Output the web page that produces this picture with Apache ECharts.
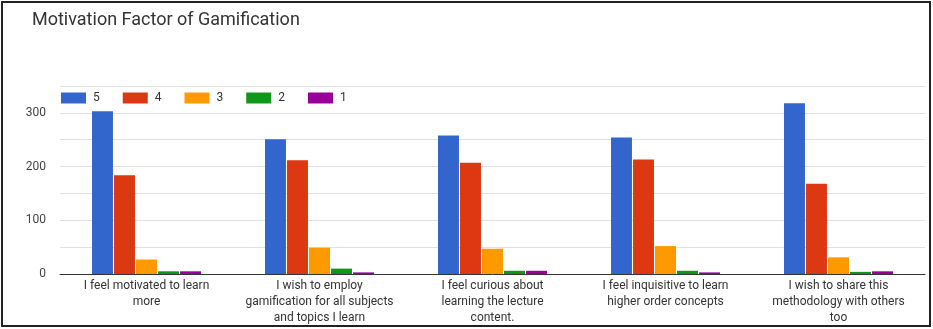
<!DOCTYPE html>
<html>
<head>
<meta charset="utf-8">
<script src="https://cdn.jsdelivr.net/npm/echarts@6/dist/echarts.min.js"></script>
<style>
  html, body { margin: 0; padding: 0; background: #fff; }
  #chart { width: 933px; height: 329px; }
</style>
</head>
<body>
<div id="chart"></div>
<script>
// Survey statements (x categories)
const categories = [
  'I feel motivated to learn more',
  'I wish to employ gamification for all subjects and topics I learn',
  'I feel curious about learning the lecture content.',
  'I feel inquisitive to learn higher order concepts',
  'I wish to share this methodology with others too'
];
// Wrapped tick labels for the category axis
const tickLabels = [
  'I feel motivated to learn\nmore',
  'I wish to employ\ngamification for all subjects\nand topics I learn',
  'I feel curious about\nlearning the lecture\ncontent.',
  'I feel inquisitive to learn\nhigher order concepts',
  'I wish to share this\nmethodology with others\ntoo'
];
// Likert rating names and response counts per rating
const ratingNames = ['5', '4', '3', '2', '1'];
const rating5 = [303, 251, 258, 254, 318];
const rating4 = [184, 212, 207, 213, 168];
const rating3 = [27, 49, 47, 52, 31];
const rating2 = [5, 10, 6, 6, 4];
const rating1 = [5, 3, 6, 3, 5];
const yTicks = [0, 100, 200, 300];

const colors = ['#3366cc', '#dc3912', '#ff9900', '#109618', '#990099'];
const values = [rating5, rating4, rating3, rating2, rating1];

const chart = echarts.init(document.getElementById('chart'));
chart.setOption({
  animation: false,
  color: colors,
  textStyle: { fontFamily: 'Roboto, Arial, sans-serif' },
  title: {
    text: 'Motivation Factor of Gamification',
    left: 27, top: 6,
    textStyle: { fontSize: 18, fontWeight: 'normal', color: '#333' }
  },
  legend: {
    left: 61, top: 92, padding: 0,
    itemWidth: 25, itemHeight: 11, itemGap: 23,
    icon: 'rect',
    textStyle: { fontSize: 12, color: '#333', padding: [0, 0, 0, 2] },
    data: ratingNames
  },
  graphic: [{
    type: 'rect', silent: true,
    shape: { x: 2, y: 2, width: 928, height: 324 },
    style: { fill: 'none', stroke: '#222', lineWidth: 2 }
  }],
  grid: { left: 60, right: 8, top: 86, bottom: 55, containLabel: false },
  xAxis: {
    type: 'category',
    data: categories,
    axisTick: { show: false },
    axisLine: { lineStyle: { color: '#333', width: 1 } },
    axisLabel: {
      interval: 0, fontSize: 12, color: '#333', lineHeight: 16, margin: 4,
      formatter: (v, i) => tickLabels[i]
    }
  },
  yAxis: {
    type: 'value', min: 0, max: 350, interval: 50,
    axisLine: { show: false }, axisTick: { show: false },
    splitLine: { lineStyle: { color: '#e0e0e0', width: 1 } },
    axisLabel: {
      fontSize: 12, color: '#444', margin: 14,
      formatter: v => (yTicks.indexOf(v) >= 0 ? String(v) : '')
    }
  },
  series: ratingNames.map((name, k) => ({
    name, type: 'bar', data: values[k],
    barGap: '5%', barCategoryGap: '37%'
  }))
});
</script>
</body>
</html>
